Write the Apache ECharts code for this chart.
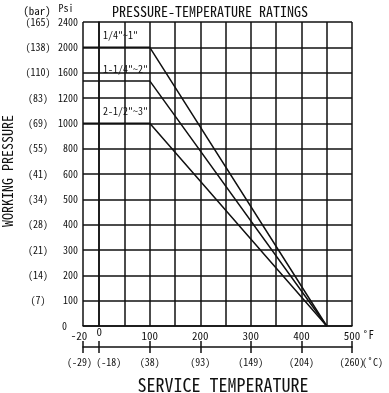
<!DOCTYPE html>
<html><head><meta charset="utf-8">
<script src="https://cdn.jsdelivr.net/npm/echarts@6/dist/echarts.min.js"></script>
<style>html,body{margin:0;padding:0;background:#fff}#c{width:389px;height:393px}</style>
</head><body><div id="c"></div>
<script>
// ---- data ----
const psiTicks = [0,100,200,300,400,500,600,800,1000,1200,1600,2000,2400];
const barTicks = ['', '(7)', '(14)', '(21)', '(28)', '(34)', '(41)', '(55)', '(69)', '(83)', '(110)', '(138)', '(165)'];
const gridTempsF = [-20,0,50,100,150,200,250,300,350,400,450,500];
const labelTempsF = [-20,0,100,200,300,400,500];
const labelTempsC = ['(-29)','(-18)','(38)','(93)','(149)','(204)','(260)'];
const seriesNames = ['1/4"~1"', '1-1/4"~2"', '2-1/2"~3"'];
const temps = [-20, 100, 450];
const psiSmall = [2000, 2000, 0];
const psiMid = [1470, 1470, 0];
const psiLarge = [1000, 1000, 0];

// ---- axis mappings (chart uses an evenly spaced psi scale and a stretched sub-zero F segment) ----
const NEG_STRETCH = 1.6;
function toX(f){ return f < 0 ? f * NEG_STRETCH : f; }
function fromX(v){ return v < 0 ? Math.round(v / NEG_STRETCH) : v; }
function toY(p){
  for (let i = 0; i < psiTicks.length - 1; i++) {
    if (p >= psiTicks[i] && p <= psiTicks[i+1]) return i + (p - psiTicks[i]) / (psiTicks[i+1] - psiTicks[i]);
  }
  return psiTicks.length - 1;
}
const FONT = '"Noto Sans Mono CJK SC","Noto Sans Mono CJK JP","Liberation Mono",monospace';
const INK = '#111';

const xMin = toX(gridTempsF[0]), xMax = toX(gridTempsF[gridTempsF.length-1]);
const gridX = gridTempsF.map(toX);
const labX = labelTempsF.map(toX);

function mkSeries(name, psis){
  return {
    type: 'line', name: name,
    data: temps.map((t, i) => ({
      value: [toX(t), toY(psis[i])],
      label: { show: i === 0 }
    })),
    symbol: 'circle', symbolSize: 0, showSymbol: true,
    lineStyle: { color: INK, width: 1.5 },
    itemStyle: { color: INK },
    label: { position: 'right', offset: [15, -12], formatter: () => name,
      fontFamily: FONT, fontSize: 10, color: INK },
    silent: true, animation: false
  };
}

function txt(text, x, y, size, align, rot){
  return { type: 'text', x: x, y: y, rotation: rot || 0, silent: true,
    style: { text: text, font: size + 'px ' + FONT, fill: INK, textAlign: align || 'center', textVerticalAlign: 'middle' } };
}

function cLabel(v){
  const f = fromX(v);
  const s = labelTempsC[labelTempsF.indexOf(f)];
  if (f < 0) return '{l|' + s + '}';
  if (f === 0) return '{r|' + s + '}';
  return s;
}

const chart = echarts.init(document.getElementById('c'), null, {renderer: 'canvas'});
chart.setOption({
  animation: false,
  backgroundColor: '#fff',
  title: {
    text: 'PRESSURE-TEMPERATURE RATINGS', left: 107, top: 0,
    textStyle: { fontFamily: FONT, fontSize: 14, fontWeight: 'normal', color: INK }
  },
  grid: [
    { left: 83, right: 37, top: 22, bottom: 67, containLabel: false, outerBoundsMode: 'none' },
    { left: 83, right: 37, top: 341, height: 12, containLabel: false, outerBoundsMode: 'none' }
  ],
  xAxis: [
    {
      type: 'value', gridIndex: 0, min: xMin, max: xMax, position: 'bottom',
      axisLine: { show: true, lineStyle: { color: INK, width: 1.5 } },
      axisTick: { show: false, customValues: gridX },
      splitLine: { show: true, lineStyle: { color: INK, width: 1.5 } },
      axisLabel: {
        customValues: labX, margin: 4, fontFamily: FONT, fontSize: 11, color: INK,
        showMinLabel: true, showMaxLabel: true, hideOverlap: false,
        formatter: v => { const f = fromX(v); return f < 0 ? '{n|' + f + '}' : (f === 0 ? '{z|0}' : String(f)); },
        rich: { n: { fontFamily: FONT, fontSize: 11, color: INK, padding: [0,8,0,0] },
                z: { fontFamily: FONT, fontSize: 11, color: INK, lineHeight: 4 } }
      }
    },
    {
      type: 'value', gridIndex: 1, min: xMin, max: xMax, position: 'bottom',
      axisLine: { show: true, onZero: true, lineStyle: { color: INK, width: 1.5 } },
      axisTick: { show: false, customValues: labX },
      splitLine: { show: true, lineStyle: { color: INK, width: 1.5 } },
      axisLabel: {
        customValues: labX, margin: 4, fontFamily: FONT, fontSize: 10, color: INK,
        showMinLabel: true, showMaxLabel: true, hideOverlap: false,
        formatter: cLabel,
        rich: { l: { fontFamily: FONT, fontSize: 10, color: INK, padding: [0,7,0,0] },
                r: { fontFamily: FONT, fontSize: 10, color: INK, padding: [0,0,0,19] } }
      }
    }
  ],
  yAxis: [
    {
      type: 'value', gridIndex: 0, min: 0, max: psiTicks.length - 1, interval: 1, position: 'left',
      axisLine: { show: true, lineStyle: { color: INK, width: 1.5 } },
      axisTick: { show: false },
      splitLine: { show: true, lineStyle: { color: INK, width: 1.5 } },
      axisLabel: {
        margin: 5, fontFamily: FONT, fontSize: 10, color: INK,
        formatter: v => v === 0 ? '{z|0}' : String(psiTicks[v]),
        rich: { z: { fontFamily: FONT, fontSize: 10, color: INK, padding: [0,11,0,0] } }
      }
    },
    {
      type: 'value', gridIndex: 0, min: 0, max: psiTicks.length - 1, interval: 1, position: 'left', offset: 45,
      axisLine: { show: false }, axisTick: { show: false }, splitLine: { show: false },
      axisLabel: { margin: 0, align: 'center', fontFamily: FONT, fontSize: 10, color: INK,
        formatter: v => barTicks[v] }
    },
    {
      type: 'value', gridIndex: 1, min: -1, max: 1, interval: 1,
      axisLine: { show: false }, axisTick: { show: false }, axisLabel: { show: false }, splitLine: { show: false }
    }
  ],
  graphic: [
    txt('WORKING PRESSURE', 8, 171, 14, 'center', Math.PI / 2),
    txt('SERVICE TEMPERATURE', 223, 385, 18, 'center'),
    txt('Psi', 66, 8, 10, 'center'),
    txt('(bar)', 37, 11, 11, 'center'),
    txt('˚F', 362, 335, 11, 'left'),
    txt('(˚C)', 362, 362, 10, 'left')
  ],
  series: [
    mkSeries(seriesNames[0], psiSmall),
    mkSeries(seriesNames[1], psiMid),
    mkSeries(seriesNames[2], psiLarge)
  ]
});
</script></body></html>
